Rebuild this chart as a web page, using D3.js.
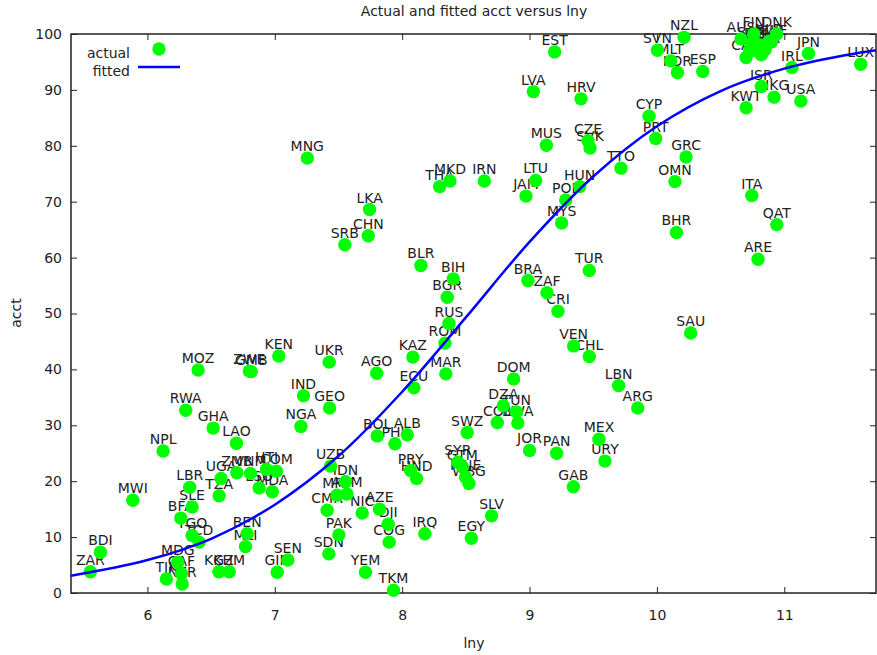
<!DOCTYPE html>
<html>
<head>
<meta charset="utf-8">
<script src="https://cdn.jsdelivr.net/npm/d3@7"></script>
<style>
  body { margin: 0; background: #fff; }
  svg text { font-family: "DejaVu Sans", sans-serif; font-size: 14px; fill: #222; }
</style>
</head>
<body>
<svg id="chart" width="877" height="655"></svg>
<script>
// country codes, lny and acct
const codes = ["EST","LVA","HRV","MNG","MUS","CZE","SVK","THA","MKD","IRN","LTU","JAM","HUN","POL","LKA","MYS",
  "NZL","SVN","MLT","KOR","ESP","AUS","AUT","SGP","FIN","CAN","FRA","DEU","BEL","GBR","NLD","SWE","DNK","IRL","JPN","LUX","ISR","HKG","USA","KWT",
  "CYP","PRT","GRC","TTO","OMN","ITA","BHR","QAT","ARE","SAU","CHL","LBN","ARG","TUR",
  "CHN","SRB","BLR","BIH","BGR","RUS","ROM","KAZ","MAR","AGO","UKR","ECU","IND","GEO",
  "BRA","ZAF","CRI","VEN","DOM","DZA","TUN","COL","BWA","SWZ","JOR","PAN","SYR","GTM","MNE","WBG",
  "NGA","BOL","ALB","PHL","UZB","IDN","MRT","ARM","CMR","NIC","AZE","DJI","COG","PAK","SDN","YEM","TKM",
  "IRQ","PRY","HND","SLV","EGY","GAB","SEN","GIN","MEX","URY",
  "RWA","GHA","LAO","NPL","MWI","BDI","ZAR","LBR","SLE","BFA","TGO","TCD","MDG","TJK","CAF","NER",
  "UGA","TZA","ZMB","VNM","HTI","COM","LSO","MDA","KGZ","KHM","BEN","MLI","MOZ","ZWE","GMB","KEN"];
const lny = [9.197,9.03,9.404,7.255,9.132,9.459,9.475,8.294,8.375,8.645,9.048,8.972,9.394,9.284,7.744,9.252,
  10.213,10.004,10.108,10.161,10.36,10.66,10.73,10.74,10.76,10.70,10.78,10.80,10.82,10.85,10.88,10.90,10.94,11.06,11.19,11.60,10.82,10.92,11.13,10.70,
  9.938,9.99,10.229,9.718,10.142,10.745,10.153,10.941,10.794,10.265,9.469,9.699,9.849,9.469,
  7.734,7.55,8.147,8.401,8.354,8.367,8.336,8.084,8.343,7.80,7.427,8.092,7.225,7.43,
  8.987,9.137,9.223,9.346,8.875,8.794,8.896,8.747,8.908,8.511,9.0,9.213,8.437,8.472,8.498,8.524,
  7.205,7.804,8.04,7.943,7.438,7.555,7.488,7.567,7.411,7.686,7.822,7.89,7.898,7.503,7.424,7.712,7.932,
  8.178,8.066,8.113,8.702,8.543,9.344,7.102,7.019,9.545,9.592,
  6.301,6.516,6.699,6.123,5.885,5.631,5.552,6.332,6.351,6.262,6.351,6.406,6.238,6.149,6.267,6.273,
  6.578,6.563,6.702,6.809,6.935,7.013,6.877,6.98,6.561,6.642,6.783,6.77,6.398,6.80,6.815,7.031];
const acct = [96.8,89.7,88.4,77.8,80.1,80.9,79.6,72.7,73.7,73.7,73.8,71.0,72.7,70.3,68.6,66.2,
  99.4,97.1,95.2,93.1,93.3,99.1,97.1,98.2,100,95.8,97.0,98.1,96.3,97.2,98.7,98.6,100,94.0,96.5,94.6,90.6,88.7,88.0,86.8,
  85.3,81.3,78.0,76.0,73.6,71.1,64.5,65.9,59.7,46.5,42.3,37.1,33.1,57.7,
  63.9,62.3,58.6,56.2,52.9,48.2,44.7,42.2,39.2,39.3,41.3,36.7,35.3,33.1,
  55.9,53.7,50.4,44.2,38.3,33.5,32.4,30.5,30.4,28.7,25.5,25.0,23.4,22.6,20.7,19.6,
  29.8,28.1,28.3,26.7,22.7,19.9,17.5,17.7,14.8,14.3,15.0,12.3,9.1,10.4,7.0,3.7,0.5,
  10.6,21.9,20.5,13.8,9.8,19.0,5.9,3.7,27.5,23.6,
  32.7,29.5,26.8,25.4,16.6,7.3,3.8,18.9,15.4,13.4,10.3,9.1,5.5,2.5,3.5,1.6,
  20.5,17.4,21.5,21.4,22.1,21.8,18.8,18.1,3.8,3.8,10.6,8.3,39.9,39.7,39.6,42.4];

// fitted curve
const fitX = [5.40, 6.0, 6.5, 7.0, 7.5, 8.0, 8.5, 9.0, 9.5, 10.0, 10.5, 11.0, 11.5, 11.72];
const fitY = [3.1, 5.9, 9.7, 15.8, 24.5, 36.0, 49.3, 62.8, 74.5, 83.5, 89.8, 93.8, 96.3, 97.1];

const xTicks = [6, 7, 8, 9, 10, 11];
const yTicks = [0, 10, 20, 30, 40, 50, 60, 70, 80, 90, 100];

const plotLeft = 71, plotRight = 876, plotTop = 34, plotBottom = 593;
const svg = d3.select('#chart');

const x = d3.scaleLinear().domain([5.4, 11.72]).range([plotLeft, plotRight]);
const y = d3.scaleLinear().domain([0, 100]).range([plotBottom, plotTop]);

const tickLen = 6;
const axisStyle = g => {
  g.select('.domain').remove();
  g.selectAll('.tick line').attr('stroke', '#222').attr('stroke-width', 1);
  g.selectAll('.tick text').style('font-size', '14px').attr('fill', '#222');
};

// bottom & top
svg.append('g').attr('transform', `translate(0,${plotBottom})`)
  .call(d3.axisBottom(x).tickValues(xTicks).tickSize(-tickLen).tickPadding(17).tickFormat(d3.format('d')))
  .call(axisStyle);
svg.append('g').attr('transform', `translate(0,${plotTop})`)
  .call(d3.axisTop(x).tickValues(xTicks).tickSize(-tickLen).tickFormat(''))
  .call(axisStyle);
// left & right
svg.append('g').attr('transform', `translate(${plotLeft},0)`)
  .call(d3.axisLeft(y).tickValues(yTicks).tickSize(-tickLen).tickPadding(9).tickFormat(d3.format('d')))
  .call(axisStyle);
svg.append('g').attr('transform', `translate(${plotRight},0)`)
  .call(d3.axisRight(y).tickValues(yTicks).tickSize(-tickLen).tickFormat(''))
  .call(axisStyle);
svg.selectAll('text').attr('font-family', 'DejaVu Sans');

svg.append('rect')
  .attr('x', plotLeft).attr('y', plotTop)
  .attr('width', plotRight - plotLeft).attr('height', plotBottom - plotTop)
  .attr('fill', 'none').attr('stroke', '#222').attr('stroke-width', 1.5);

const data = codes.map((c, i) => ({code: c, lny: lny[i], acct: acct[i]}));

const plot = svg.append('g');
plot.selectAll('text.lab')
  .data(data)
  .join('text')
  .attr('class', 'lab')
  .attr('x', d => x(d.lny))
  .attr('y', d => y(d.acct) - 7)
  .attr('text-anchor', 'middle')
  .text(d => d.code);
plot.selectAll('circle')
  .data(data)
  .join('circle')
  .attr('cx', d => x(d.lny))
  .attr('cy', d => y(d.acct))
  .attr('r', 6.7)
  .attr('fill', '#00ff00');

const line = d3.line()
  .x(d => x(d[0]))
  .y(d => y(d[1]))
  .curve(d3.curveCatmullRom);
svg.append('path')
  .datum(fitX.map((v, i) => [v, fitY[i]]))
  .attr('d', line)
  .attr('fill', 'none')
  .attr('stroke', '#0000ff')
  .attr('stroke-width', 2.5);

// legend
const legend = svg.append('g');
legend.append('text').attr('x', 130).attr('y', 58).attr('text-anchor', 'end').text('actual');
legend.append('circle').attr('cx', 159).attr('cy', 49).attr('r', 6.7).attr('fill', '#00ff00');
legend.append('text').attr('x', 130).attr('y', 76).attr('text-anchor', 'end').text('fitted');
legend.append('line').attr('x1', 138).attr('x2', 180).attr('y1', 67).attr('y2', 67)
  .attr('stroke', '#0000ff').attr('stroke-width', 2.5);

// titles
svg.append('text').attr('x', 474).attr('y', 16).attr('text-anchor', 'middle')
  .text('Actual and fitted acct versus lny');
svg.append('text').attr('x', 474).attr('y', 648).attr('text-anchor', 'middle').text('lny');
svg.append('text')
  .attr('transform', 'translate(21,313) rotate(-90)')
  .attr('text-anchor', 'middle')
  .text('acct');
</script>
</body>
</html>
